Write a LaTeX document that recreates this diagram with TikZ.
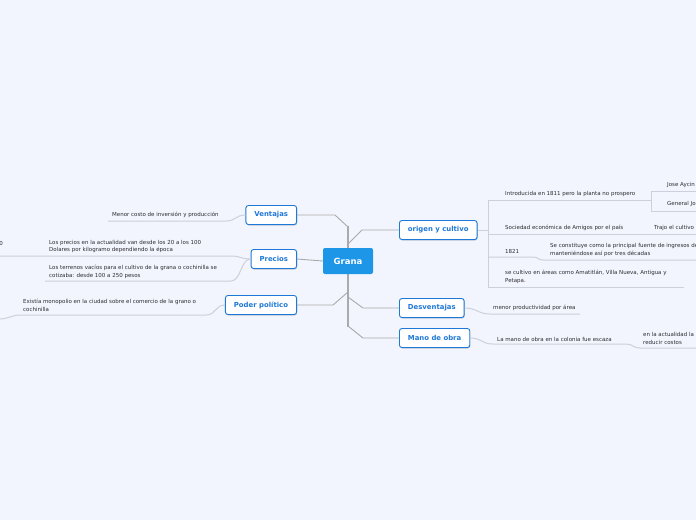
\documentclass[tikz,border=0pt]{standalone}
\usepackage{fontspec}
\setmainfont{DejaVu Sans}
\usetikzlibrary{positioning, shadows}
\definecolor{bgpale}{RGB}{242,245,253}
\definecolor{granablue}{RGB}{30,150,232}
\definecolor{topicblue}{RGB}{30,120,215}
\definecolor{trunkgray}{RGB}{170,170,172}
\definecolor{subgray}{RGB}{204,208,218}
\definecolor{subtext}{RGB}{45,45,50}

\begin{document}
\begin{tikzpicture}[x=1pt, y=-1pt,
    central/.style={fill=granablue, rounded corners=2pt, text=white, font=\fontsize{8.5}{10}\selectfont\bfseries, minimum width=50pt, minimum height=26pt},
    topic/.style={draw=topicblue, line width=0.9pt, fill=white, rounded corners=2.5pt, text=topicblue, font=\fontsize{6.9}{8}\selectfont\bfseries, minimum height=19pt, inner xsep=8.5pt, drop shadow={shadow xshift=0.5pt, shadow yshift=-1pt, fill=topicblue!40!black, opacity=0.25}},
    subtopic/.style={anchor=west, inner sep=0pt, text=subtext, align=left, font=\fontsize{5.5}{7.8}\selectfont},
    branch/.style={draw=trunkgray, line width=0.9pt},
    trunk/.style={draw=trunkgray, line width=2.6pt},
    subline/.style={draw=subgray, line width=1pt}]
        \useasboundingbox (0,0) rectangle (696,520);
        \fill[bgpale] (0,0) rectangle (696,520);
        \clip (0,0) rectangle (696,520);
        \draw[trunk] (348,226) -- (348,327);
        \coordinate (tv) at (335,215);
        \coordinate (tv2) at (348,227);
        \coordinate (to) at (362,230);
        \coordinate (to2) at (348,244);
        \coordinate (tp) at (333,305);
        \coordinate (tp2) at (348,292);
        \coordinate (td) at (363,308);
        \coordinate (td2) at (348,297);
        \coordinate (tm) at (363,338);
        \coordinate (tm2) at (348,326);
        \node[central] (grana) at (348,261) {Grana};
        \node[topic, anchor=east] (vent) at (297,215) {Ventajas};
        \node[topic, anchor=east] (prec) at (297,259) {Precios};
        \node[topic, anchor=east] (poder) at (297,305) {Poder político};
        \node[topic, anchor=west] (orig) at (399,230) {origen y cultivo};
        \node[topic, anchor=west] (desv) at (399,308) {Desventajas};
        \node[topic, anchor=west] (mano) at (399,338) {Mano de obra};
        \draw[branch] (vent.east) -- (tv) -- (tv2);
        \draw[branch] (grana.west) -- (prec.east);
        \draw[branch] (poder.east) -- (tp) -- (tp2);
        \draw[branch] (orig.west) -- (to) -- (to2);
        \draw[branch] (desv.west) -- (td) -- (td2);
        \draw[branch] (mano.west) -- (tm) -- (tm2);
        % left side
        \node[subtopic] (menor) at (112,215) {Menor costo de inversión y producción};
        \node[subtopic] (precact) at (49,246.5) {Los precios en la actualidad van desde los 20 a los 100\\Dolares por kilogramo dependiendo la época};
        \node[subtopic] (terr) at (49,271.5) {Los terrenos vacíos para el cultivo de la grana o cochinilla se\\cotizaba: desde 100 a 250 pesos};
        \node[subtopic, anchor=east] (cero) at (3,243) {0};
        \node[subtopic] (mono) at (23,305) {Existía monopolio en la ciudad sobre el comercio de la grano o\\cochinilla};
        \coordinate (menorl) at (108,221);
        \coordinate (menorr) at (226,221);
        \coordinate (precl) at (45,256);
        \coordinate (precr) at (231,256);
        \coordinate (terrl) at (45,281);
        \coordinate (terrr) at (231,281);
        \coordinate (cerol) at (0,256);
        \coordinate (monol) at (20,315);
        \coordinate (monor) at (206,315);
        \coordinate (monoend) at (0,319);
        \draw[subline] (vent.west) .. controls +(-10,0) and +(10,0) .. (menorr) -- (menorl);
        \draw[subline] (prec.west) .. controls +(-10,0) and +(10,0) .. (precr) -- (precl) -- (cerol);
        \draw[subline] (prec.west) .. controls +(-10,0) and +(10,0) .. (terrr) -- (terrl);
        \draw[subline] (poder.west) .. controls +(-10,0) and +(10,0) .. (monor) -- (monol) .. controls +(-8,0) and +(8,0) .. (monoend);
        % origen y cultivo
        \coordinate (ob) at (488,230);
        \coordinate (obtop) at (488,200);
        \coordinate (obbot) at (488,287);
        \node[subtopic] (intro) at (505,194) {Introducida en 1811 pero la planta no prospero};
        \node[subtopic] (jose) at (667,185) {Jose Aycin};
        \node[subtopic] (general) at (667,204) {General Jo};
        \node[subtopic] (soc) at (505,228) {Sociedad económica de Amigos por el país};
        \node[subtopic] (trajo) at (654,228) {Trajo el cultivo};
        \node[subtopic] (anio) at (505,251) {1821};
        \node[subtopic] (const) at (550,250) {Se constituye como la principal fuente de ingresos de\\manteniéndose así por tres décadas};
        \node[subtopic] (areas) at (505,277) {se cultivo en áreas como Amatitlán, Villa Nueva, Antigua y\\Petapa.};
        \coordinate (intror) at (651,200);
        \coordinate (jb) at (651,191);
        \coordinate (gb) at (651,211);
        \coordinate (jr) at (696,191);
        \coordinate (gr) at (696,211);
        \coordinate (socl) at (488,234);
        \coordinate (socr) at (696,234);
        \coordinate (aniol) at (488,257);
        \coordinate (anior) at (533,257);
        \coordinate (constl) at (543,260);
        \coordinate (constr) at (696,260);
        \coordinate (areasr) at (684,287);
        \draw[subline] (orig.east) -- (ob);
        \draw[subline] (obtop) -- (obbot) -- (areasr);
        \draw[subline] (obtop) -- (intror);
        \draw[subline] (jb) -- (gb);
        \draw[subline] (jb) -- (jr);
        \draw[subline] (gb) -- (gr);
        \draw[subline] (socl) -- (socr);
        \draw[subline] (aniol) -- (anior) .. controls +(6,0) and +(-6,0) .. (constl) -- (constr);
        % desventajas y mano de obra
        \node[subtopic] (menorprod) at (493,308) {menor productividad por área};
        \node[subtopic] (escaza) at (497,339) {La mano de obra en la colonia fue escaza};
        \node[subtopic] (reducir) at (643,338.5) {en la actualidad la\\reducir costos};
        \coordinate (mpl) at (490,314);
        \coordinate (mpr) at (580,314);
        \coordinate (escl) at (493,344);
        \coordinate (escr) at (626,344);
        \coordinate (redl) at (640,348);
        \coordinate (redr) at (696,348);
        \draw[subline] (desv.east) .. controls +(12,0) and +(-12,0) .. (mpl) -- (mpr);
        \draw[subline] (mano.east) .. controls +(12,0) and +(-12,0) .. (escl) -- (escr) .. controls +(7,0) and +(-7,0) .. (redl) -- (redr);
\end{tikzpicture}
\end{document}
